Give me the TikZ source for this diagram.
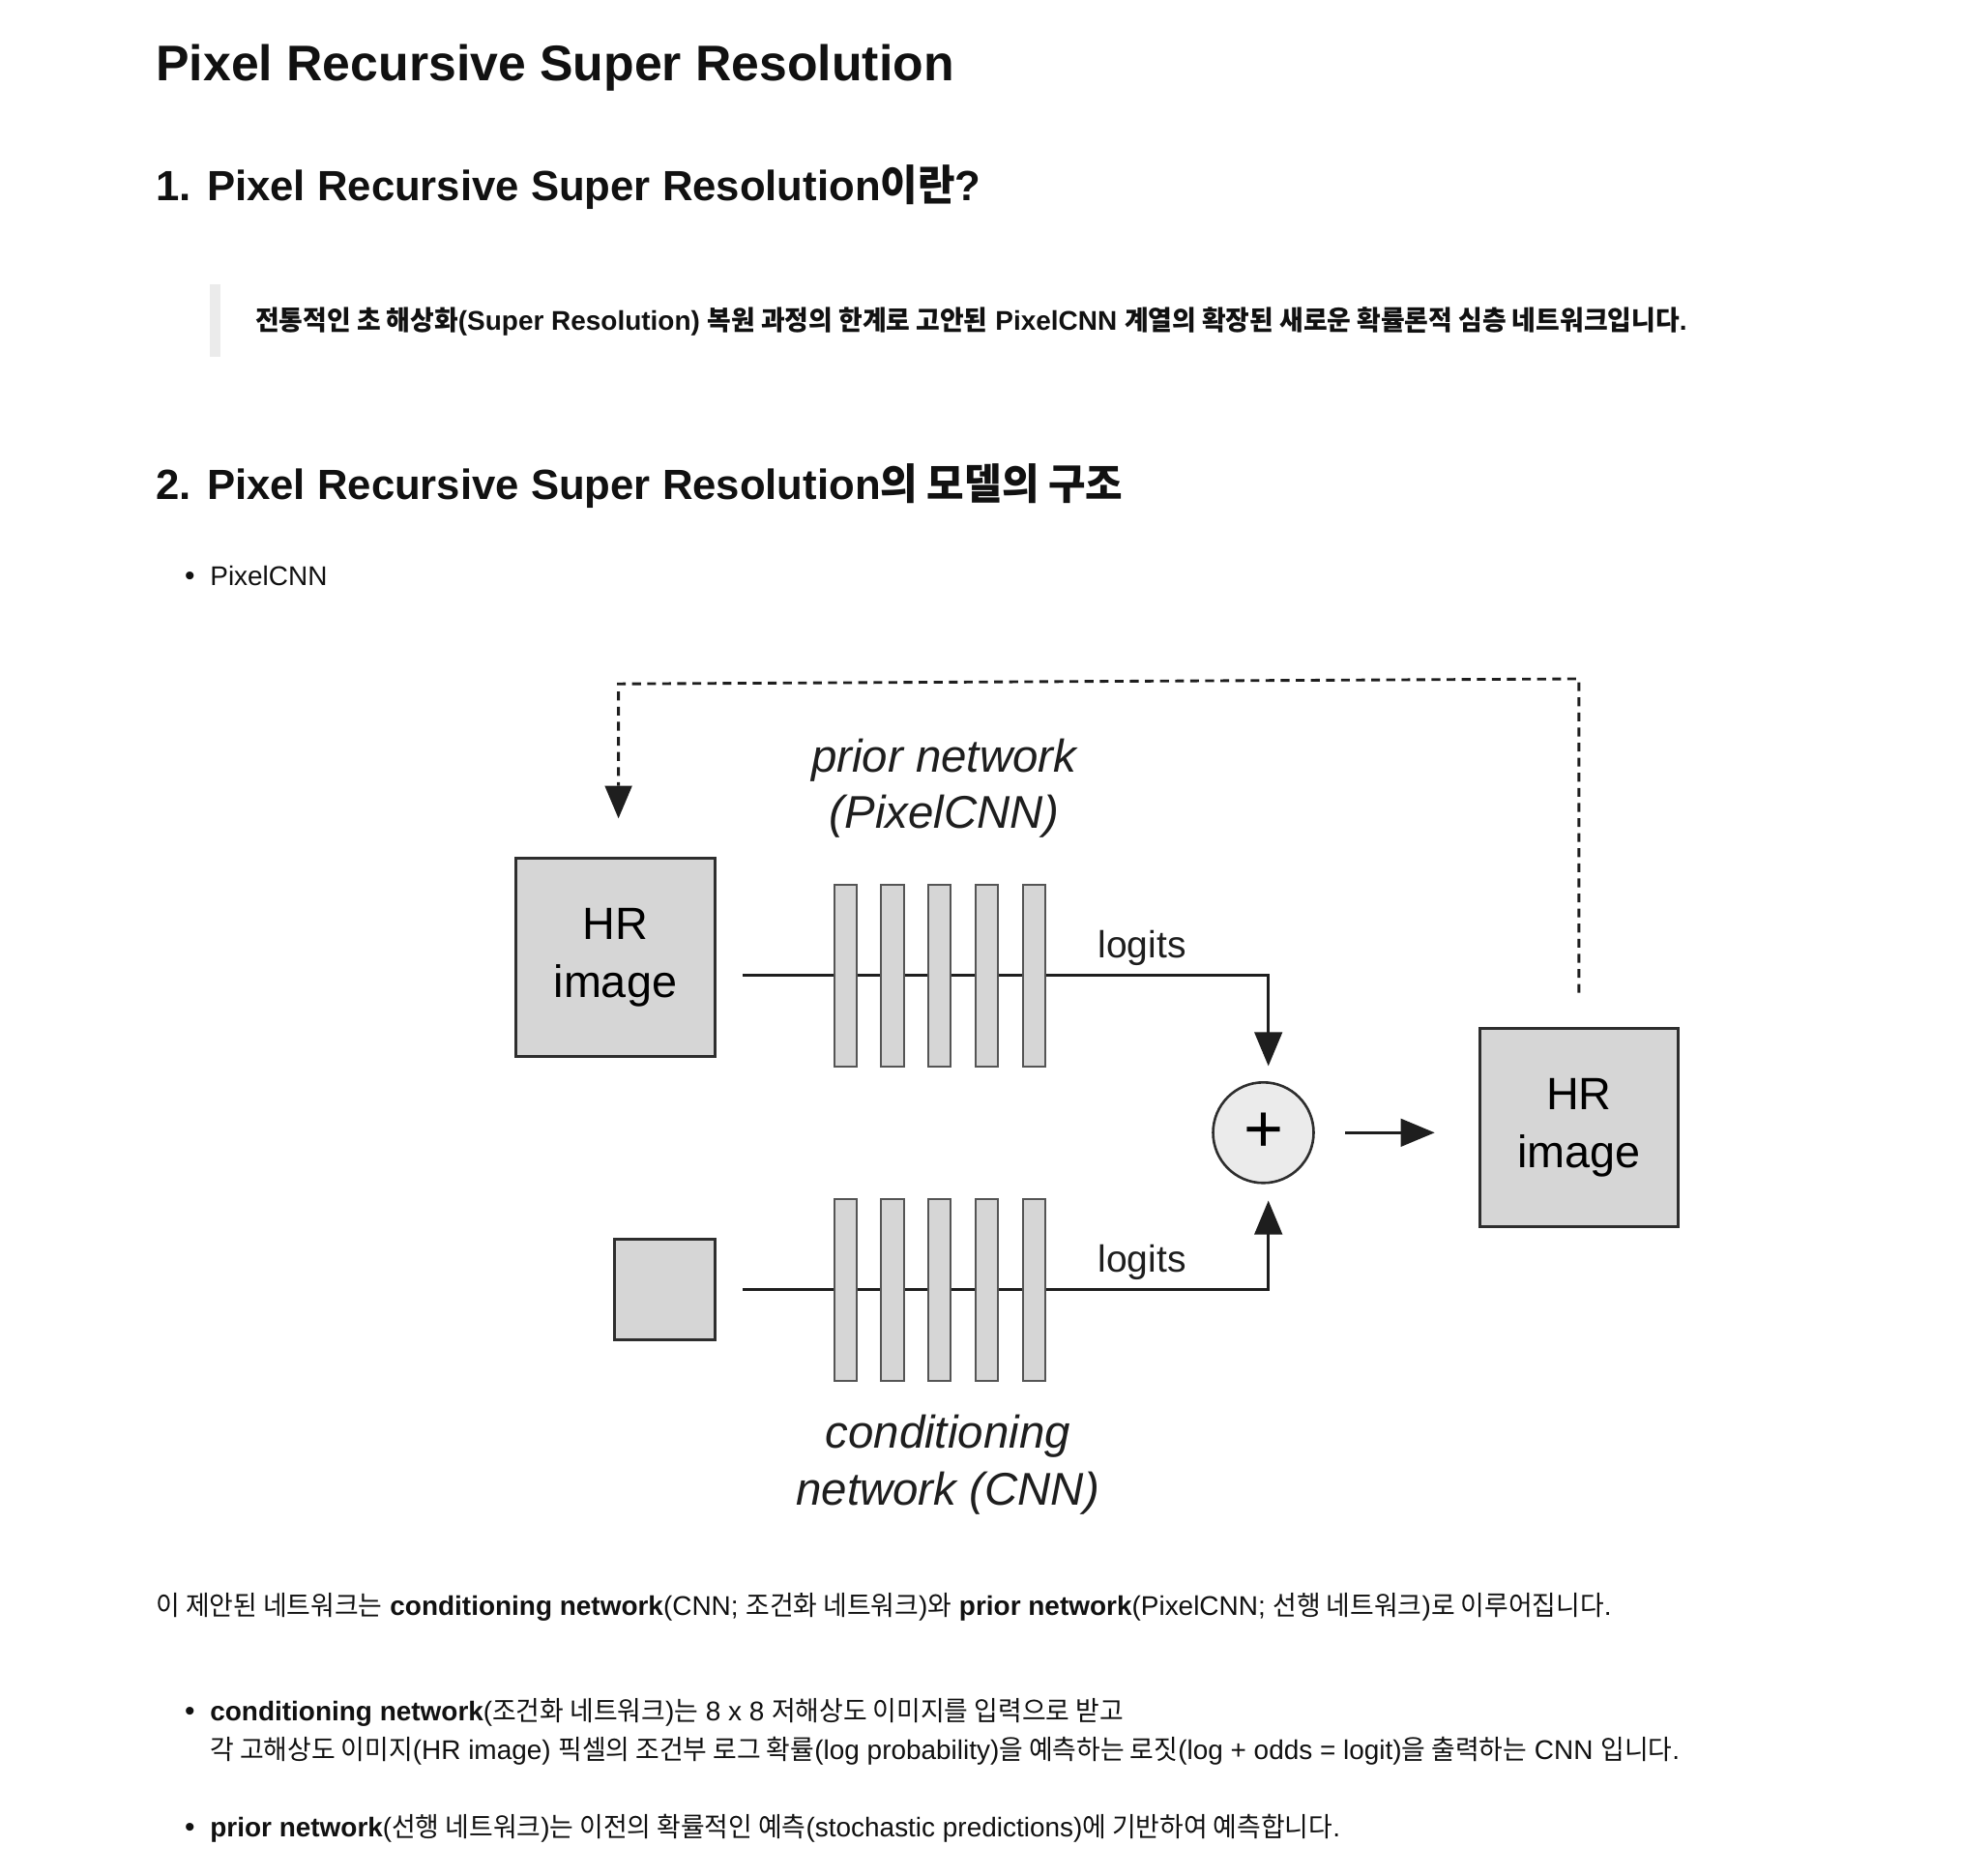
\documentclass[tikz,border=0pt]{standalone}
\usepackage{fontspec}
\setmainfont{Liberation Sans}
\newfontfamily\krfont{Noto Sans CJK KR}[FakeStretch=0.96]
\newcommand\kr[1]{{\krfont #1}}
\usetikzlibrary{arrows.meta}
\definecolor{boxfill}{HTML}{D6D6D6}
\definecolor{circfill}{HTML}{EBEBEB}
\definecolor{boxline}{HTML}{2E2E2E}
\definecolor{barline}{HTML}{555555}
\definecolor{lineclr}{HTML}{1E1E1E}
\definecolor{quotebar}{HTML}{EBEBEB}
\definecolor{txt}{HTML}{111111}
\tikzset{
  txtline/.style={anchor=base west, inner sep=0pt, text=txt},
  titlefont/.style={font=\fontsize{39.8}{48}\selectfont\bfseries},
  headfont/.style={font=\fontsize{33.6}{42}\selectfont\bfseries},
  bodyfont/.style={font=\fontsize{21.5}{26}\selectfont},
  quotefont/.style={font=\fontsize{21.5}{26}\selectfont\bfseries},
  bulletdot/.style={anchor=base, inner sep=0pt, text=txt, font=\fontsize{23}{26}\selectfont},
  imgbox/.style={draw=boxline, fill=boxfill, line width=2.4pt, minimum width=158pt,
    minimum height=158pt, inner sep=0pt, align=center, font=\fontsize{36}{46}\selectfont},
  smallbox/.style={draw=boxline, fill=boxfill, line width=2.4pt, minimum width=80pt,
    minimum height=80pt, inner sep=0pt},
  layerbar/.style={draw=barline, fill=boxfill, line width=1.5pt, minimum width=18pt,
    minimum height=145pt, inner sep=0pt},
  sumnode/.style={circle, draw=boxline, fill=circfill, line width=2pt, minimum size=80pt,
    inner sep=0pt, font=\fontsize{54}{54}\selectfont},
  conn/.style={draw=lineclr, line width=2.2pt},
  tip/.style={-{Triangle[length=27pt,width=22pt]}},
  feedback/.style={draw=lineclr, line width=2.2pt, dash pattern=on 7pt off 5pt},
  netlabel/.style={align=center, inner sep=0pt, text=lineclr, font=\fontsize{36.5}{45}\selectfont\itshape},
  logitlabel/.style={inner sep=0pt, text=lineclr, font=\fontsize{30}{36}\selectfont},
}
\begin{document}
\begin{tikzpicture}[x=1pt, y=-1pt]
\useasboundingbox (0,0) rectangle (1560,1492.3);
\fill[white] (0,0) rectangle (1560,1492.3);

% ---------- text part ----------
\node[txtline, titlefont] (title) at (124,64) {Pixel Recursive Super Resolution};
\node[txtline, headfont] (h1) at (124,160) {1. Pixel Recursive Super Resolution\kr{이란}?};
\fill[quotebar] (167,226) rectangle (175,284);
\node[txtline, quotefont] (quote) at (203,263) {\kr{전통적인 초 해상화}(Super Resolution) \kr{복원 과정의 한계로 고안된} PixelCNN \kr{계열의 확장된 새로운 확률론적 심층 네트워크입니다}.};
\node[txtline, headfont] (h2) at (124,397) {2. Pixel Recursive Super Resolution\kr{의 모델의 구조}};
\node[bulletdot] (d0) at (151,466) {•};
\node[txtline, bodyfont] (b0) at (167,466) {PixelCNN};

% ---------- diagram ----------
\node[imgbox] (hr1) at (489.5,761.5) {HR\\image};
\node[imgbox] (hr2) at (1256,897) {HR\\image};
\node[smallbox] (lr) at (529,1026) {};
\node[sumnode] (sum) at (1005,901) {+};

\coordinate (pin) at (591,776);
\coordinate (cin) at (591,1026);
\foreach \i/\x in {1/672.5,2/710,3/747.5,4/785,5/822.5}{
  \node[layerbar] (p\i) at (\x,776) {};
  \node[layerbar] (c\i) at (\x,1026) {};
}
\draw[conn] (pin) -- (p1.west);
\draw[conn] (cin) -- (c1.west);
\foreach \i/\j in {1/2,2/3,3/4,4/5}{
  \draw[conn] (p\i.east) -- (p\j.west);
  \draw[conn] (c\i.east) -- (c\j.west);
}
\draw[conn, tip, shorten >=12pt] (p5.east) -| ([xshift=4pt]sum.north);
\draw[conn, tip, shorten >=13pt] (c5.east) -| ([xshift=4pt]sum.south);
\draw[conn, tip, shorten <=24pt, shorten >=34.5pt] (sum.east) -- (sum.east -| hr2.west);

\node[logitlabel] (lg1) at (908.5,754) {logits};
\node[logitlabel] (lg2) at (908.5,1004) {logits};
\node[netlabel] (prior) at (751,627) {prior network\\(PixelCNN)};
\node[netlabel] (cond) at (754,1165) {conditioning\\network (CNN)};

\coordinate (fbA) at (1256,540);
\coordinate (fbB) at (492,544);
\coordinate (fbEnd) at (492,625);
\draw[feedback] ([yshift=27pt]hr2.north) -- (fbA) -- (fbB) -- (fbEnd);
\fill[lineclr] (fbEnd) ++(-11,0) -- ++(22,0) -- ++(-11,26) -- cycle;

% ---------- text below ----------
\node[txtline, bodyfont] (para) at (124,1285) {\kr{이 제안된 네트워크는} \textbf{conditioning network}(CNN; \kr{조건화 네트워크})\kr{와} \textbf{prior network}(PixelCNN; \kr{선행 네트워크})\kr{로 이루어집니다}.};
\node[bulletdot] (d1) at (151,1369) {•};
\node[txtline, bodyfont] (b1) at (167,1369) {\textbf{conditioning network}(\kr{조건화 네트워크})\kr{는} 8 x 8 \kr{저해상도 이미지를 입력으로 받고}};
\node[txtline, bodyfont] (b1b) at (167,1399.5) {\kr{각 고해상도 이미지}(HR image) \kr{픽셀의 조건부 로그 확률}(log probability)\kr{을 예측하는 로짓}(log + odds = logit)\kr{을 출력하는} CNN \kr{입니다}.};
\node[bulletdot] (d2) at (151,1461) {•};
\node[txtline, bodyfont] (b2) at (167,1461) {\textbf{prior network}(\kr{선행 네트워크})\kr{는 이전의 확률적인 예측}(stochastic predictions)\kr{에 기반하여 예측합니다}.};
\end{tikzpicture}
\end{document}
